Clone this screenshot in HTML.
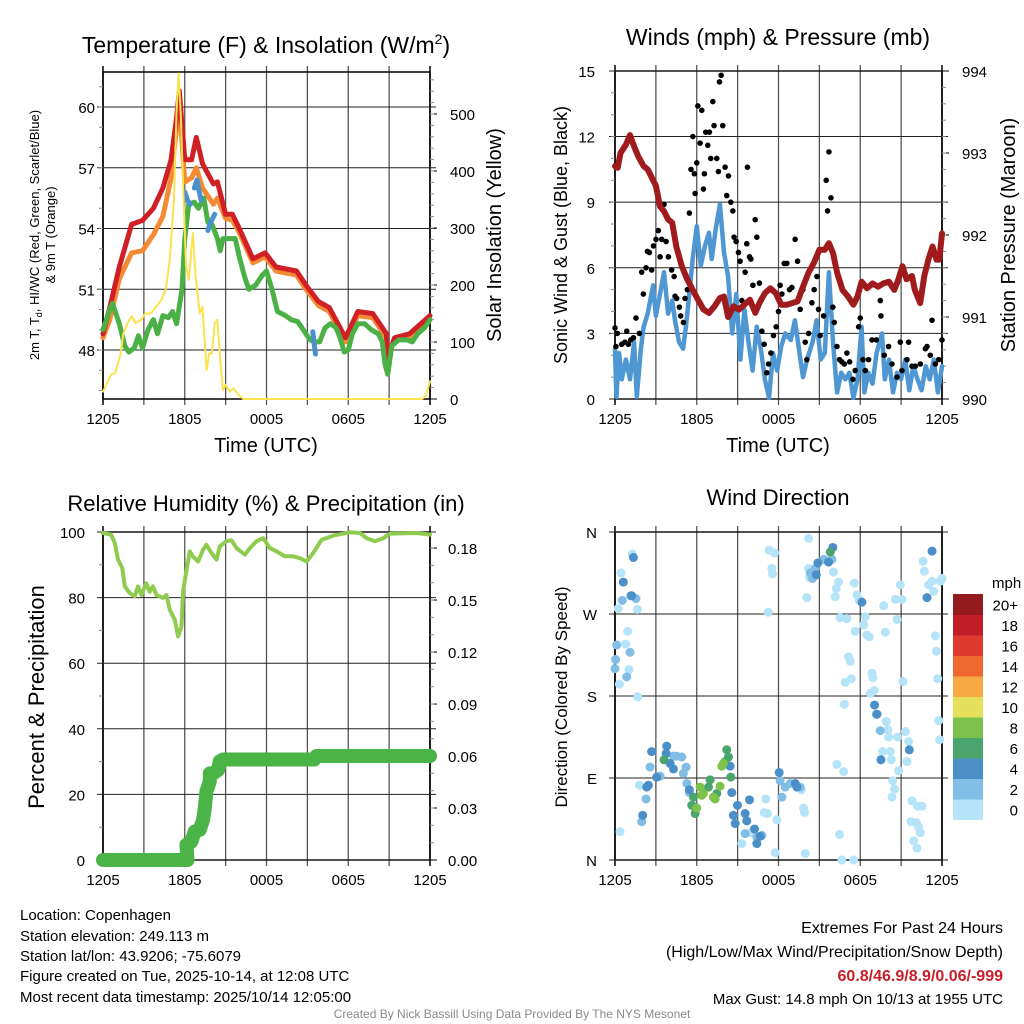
<!DOCTYPE html>
<html><head><meta charset="utf-8"><style>
html,body{margin:0;padding:0;background:#fff;}
svg{display:block;font-family:"Liberation Sans",Arial,sans-serif;}
</style></head><body>
<svg id="chart" width="1024" height="1024" viewBox="0 0 1024 1024" xmlns="http://www.w3.org/2000/svg">
<rect width="1024" height="1024" fill="#fff"/>
<g id="g1"></g>
<g id="g2"></g>
<g id="g3"></g>
<g id="g4"></g>
<g id="gtext">
<text x="20" y="920" font-size="15">Location: Copenhagen</text>
<text x="20" y="941" font-size="15">Station elevation: 249.113 m</text>
<text x="20" y="961" font-size="15">Station lat/lon: 43.9206; -75.6079</text>
<text x="20" y="981" font-size="15">Figure created on Tue, 2025-10-14, at 12:08 UTC</text>
<text x="20" y="1002" font-size="15">Most recent data timestamp: 2025/10/14 12:05:00</text>
<text x="1003" y="933" font-size="16" text-anchor="end">Extremes For Past 24 Hours</text>
<text x="1003" y="957" font-size="16" text-anchor="end">(High/Low/Max Wind/Precipitation/Snow Depth)</text>
<text x="1003" y="981" font-size="16" font-weight="bold" fill="#c8202a" text-anchor="end">60.8/46.9/8.9/0.06/-999</text>
<text x="1003" y="1004" font-size="15" text-anchor="end">Max Gust: 14.8 mph On 10/13 at 1955 UTC</text>
<text x="512" y="1018" font-size="12" fill="#8a8a8a" text-anchor="middle">Created By Nick Bassill Using Data Provided By The NYS Mesonet</text>
</g>
</svg>
<script>
// ---------- data ----------
const xTickLabels = ["1205","1805","0005","0605","1205"];
const tempTickLabels = [60,57,54,51,48];
const insolTickLabels = [0,100,200,300,400,500];
const redT = [0,48.8,0.5,50.1,1.2,52.1,2.1,54.2,2.9,54.4,3.7,55.0,4.4,56.0,5.0,57.4,5.4,59.5,5.6,60.8,6.0,57.4,6.5,57.4,6.85,58.5,7.3,57.2,8.1,56.2,8.4,56.3,9.0,54.7,9.5,54.7,10.0,54.0,11.0,52.5,11.9,52.8,12.7,52.1,14.2,51.9,14.9,51.2,15.8,50.4,16.6,50.1,17.8,48.6,18.7,49.9,19.8,49.8,20.8,48.8,20.9,47.6,21.4,48.6,22.5,48.8,24,49.7];
const orangeT = [0,48.6,0.5,49.5,1.2,51.5,2.1,52.8,2.9,52.9,3.7,53.7,4.4,54.6,5.0,56.5,5.4,59.0,5.6,60.2,6.0,56.3,6.5,56.5,6.85,57.0,7.3,56.0,8.1,55.2,8.4,55.5,9.0,54.5,9.5,54.4,10.0,53.8,11.0,52.3,11.9,52.6,12.7,51.9,14.2,51.7,14.9,51.0,15.8,50.2,16.6,49.9,17.8,48.4,18.7,49.7,19.8,49.6,20.8,48.6,20.9,47.8,21.4,48.5,22.5,48.6,24,49.5];
const greenTd = [0,49.0,0.5,50.0,0.7,50.3,1.2,49.3,1.6,48.2,1.9,47.9,2.3,48.1,2.6,48.7,2.9,48.1,3.3,49.0,3.7,49.5,4.0,48.8,4.4,49.7,4.8,49.6,5.1,49.9,5.4,49.3,5.8,51.0,6.0,53.5,6.3,55.2,6.7,55.3,7.0,55.0,7.4,55.5,7.7,54.3,8.0,54.2,8.4,53.5,8.6,52.9,8.8,53.5,9.3,53.5,9.7,53.5,10.0,52.6,10.4,51.6,10.7,51.0,11.2,51.2,11.7,51.7,12.0,51.9,12.4,51.0,12.8,49.9,13.4,49.7,13.8,49.5,14.3,49.4,14.8,48.9,15.2,48.5,15.5,48.4,15.9,48.4,16.3,49.1,16.7,49.3,17.1,49.1,17.4,48.6,17.7,47.9,18.0,48.0,18.3,48.8,18.7,49.3,19.2,49.3,19.7,49.0,20.2,48.8,20.5,48.4,20.7,47.3,20.9,46.8,21.2,48.2,21.7,48.5,22.3,48.5,22.7,48.4,23.1,48.8,23.6,49.1,24,49.5];
const blueHI1 = [6.0,55.8,6.2,55.4,6.4,55.2];
const blueHI2 = [6.7,56.0,6.9,56.4,7.0,56.0,7.2,55.4];
const blueHI3 = [7.7,53.9,7.9,54.3,8.2,54.7];
const blueHI4 = [15.4,48.9,15.5,48.3,15.6,47.8];
const insol = [0,13,0.3,28,0.6,43,0.9,46,1.3,80,1.5,115,1.8,133,2.1,145,2.4,133,2.8,139,3.1,150,3.5,150,3.9,162,4.3,174,4.6,192,4.9,244,5.2,349,5.4,507,5.55,571,5.7,501,5.9,361,6.1,232,6.3,209,6.5,267,6.6,291,6.8,216,7.1,150,7.3,162,7.6,51,7.8,80,8.0,80,8.2,133,8.4,139,8.6,69,8.8,16,9.0,25,9.3,13,9.6,19,9.9,8,10.3,0,23.4,0,23.7,5,24,31];

const windTickLabels = [0,3,6,9,12,15];
const presTickLabels = [990,991,992,993,994];
const pressure = [0,992.84,0.2,992.82,0.4,993.0,0.8,993.1,1.1,993.22,1.4,993.08,1.7,992.96,2.1,992.84,2.4,992.8,2.7,992.7,3.0,992.6,3.3,992.35,3.6,992.29,3.9,992.19,4.2,992.15,4.5,991.86,4.9,991.62,5.3,991.46,5.7,991.33,6.1,991.21,6.5,991.09,6.9,991.05,7.3,991.13,7.7,991.23,8.0,991.25,8.3,991.0,8.7,991.13,9.1,991.09,9.5,991.15,9.9,991.21,10.3,991.05,10.6,991.17,11.0,991.29,11.4,991.35,11.8,991.29,12.2,991.15,12.6,991.15,13.0,991.17,13.4,991.19,13.8,991.37,14.2,991.54,14.6,991.66,15.0,991.82,15.4,991.82,15.7,991.9,16.0,991.78,16.3,991.54,16.7,991.33,17.1,991.25,17.5,991.15,17.8,991.25,18.1,991.43,18.5,991.35,18.9,991.41,19.3,991.37,19.7,991.41,20.1,991.43,20.5,991.33,20.8,991.46,21.1,991.62,21.4,991.46,21.8,991.5,22.0,991.33,22.4,991.17,22.7,991.5,23.0,991.7,23.3,991.86,23.6,991.7,23.8,991.7,24,992.02];
const windSpeed = [0,2.3,0.1,0.1,0.3,2.1,0.5,0.9,0.8,1.8,1.1,0.9,1.4,2.6,1.6,0.1,1.9,2.3,2.1,3.3,2.4,3.9,2.8,5.2,3.0,3.8,3.3,4.8,3.6,5.8,3.9,3.9,4.2,4.5,4.4,3.6,4.7,2.6,5.0,2.3,5.2,3.3,5.4,4.5,5.7,6.4,6.0,7.9,6.3,6.1,6.6,7.0,6.9,7.6,7.1,6.4,7.4,7.8,7.7,8.9,8.0,6.7,8.3,5.6,8.6,3.0,8.9,4.8,9.2,1.8,9.5,4.1,9.8,2.6,10.1,1.3,10.4,3.3,10.7,2.3,11.0,0.9,11.3,0.05,11.6,2.1,11.9,1.3,12.2,2.4,12.5,3.0,12.9,2.7,13.2,3.6,13.5,2.3,13.8,1.0,14.1,1.8,14.5,2.6,14.8,3.6,15.1,1.8,15.4,2.1,15.7,5.8,16.0,2.6,16.3,0.3,16.6,1.2,16.9,0.9,17.2,1.2,17.5,0.05,17.8,0.9,18.1,3.3,18.3,0.3,18.6,1.2,18.9,0.7,19.2,2.1,19.6,3.0,19.8,0.9,20.1,1.8,20.4,0.3,20.7,1.2,21.0,0.9,21.3,1.8,21.6,0.4,21.9,1.5,22.2,0.9,22.5,0.4,22.8,1.5,23.1,0.9,23.4,1.8,23.7,0.3,24,1.5];
const gustTimes = [0,0.07,0.17,0.49,0.73,0.86,0.98,1.15,1.35,1.54,1.79,1.96,2.08,2.28,2.38,2.52,2.69,2.82,3.01,3.18,3.31,3.43,3.60,3.75,3.92,4.16,4.34,4.41,4.53,4.73,4.82,5.02,5.14,5.31,5.46,5.58,5.71,5.83,5.88,6.00,6.08,6.25,6.37,6.49,6.56,6.66,6.81,6.93,7.03,7.18,7.27,7.47,7.59,7.67,7.79,7.91,8.08,8.20,8.33,8.50,8.65,8.74,8.89,9.06,9.18,9.31,9.55,9.67,9.72,9.87,9.97,10.12,10.29,10.41,10.60,10.78,10.95,11.14,11.27,11.44,11.63,11.83,12.00,12.12,12.25,12.42,12.61,12.81,12.98,13.22,13.40,13.59,13.79,13.96,14.08,14.21,14.45,14.62,14.82,14.94,15.06,15.31,15.50,15.60,15.70,15.85,15.99,16.09,16.29,16.48,16.65,16.83,17.02,17.22,17.46,17.63,17.88,18.00,18.20,18.37,18.61,18.86,19.18,19.47,19.52,19.76,20.08,20.33,20.70,20.94,21.06,21.43,21.55,21.80,22.04,22.41,22.78,22.90,23.14,23.27,23.51,23.76,24.0];
const gustValues = [3.25,2.4,3.0,2.5,2.6,3.1,2.5,2.7,2.8,3.7,3.0,5.8,4.8,6.0,6.75,6.7,5.9,7.0,7.3,7.7,6.5,7.3,8.9,7.2,6.5,5.9,5.6,4.7,4.6,4.2,3.8,3.5,4.6,5.0,8.5,10.5,12.0,10.3,9.4,10.8,13.4,11.7,13.2,9.6,10.3,12.2,11.6,12.2,11.0,13.6,12.5,11.0,10.4,14.5,14.8,12.5,10.6,9.3,10.2,9.0,8.6,7.4,7.2,6.7,6.3,4.5,5.8,7.1,10.6,6.5,6.4,5.2,8.2,7.4,5.3,3.1,2.5,1.2,1.6,2.1,2.9,3.3,4.0,5.2,4.8,6.2,6.2,5.0,5.1,7.3,6.3,4.1,5.0,2.6,1.8,3.0,4.4,5.0,5.6,4.1,2.9,3.8,10.0,8.6,11.3,9.2,4.2,3.5,2.4,1.8,1.7,1.6,2.1,1.7,0.9,1.3,3.3,3.7,1.8,1.3,1.8,2.7,2.7,4.5,3.8,2.0,2.4,1.6,1.0,2.6,1.3,1.8,2.6,1.5,1.5,1.6,2.3,2.4,2.0,3.6,1.6,1.8,2.7];

const rhTickLabels = [0,20,40,60,80,100];
const precipTickLabels = ["0.00","0.03","0.06","0.09","0.12","0.15","0.18"];
const rh = [0,99.7,0.6,99.2,0.86,96.7,1.1,91.6,1.42,89,1.6,83.4,1.96,81.4,2.33,80.4,2.57,83.4,2.82,80.8,3.18,84.4,3.43,81.8,3.67,83.4,3.92,80.8,4.41,79.9,4.65,80.8,4.9,76.3,5.27,73.2,5.51,68.2,5.76,71.2,5.88,82,6.12,88.2,6.37,94.1,6.61,92.5,6.98,91,7.35,94.6,7.59,96.1,7.96,93.6,8.33,91.6,8.57,95.6,9.06,97.2,9.43,97.5,9.8,95.1,10.41,93.1,10.78,95.1,11.27,97.2,11.76,98.1,12.25,95.1,12.74,94.1,13.35,92.6,13.96,92.6,14.45,92.0,14.94,91,15.43,93.6,16.04,97.6,16.9,98.9,18.12,99.9,18.86,99.7,19.35,98.1,19.96,97.2,20.57,98.1,21.06,99.5,23.02,99.7,24,99.2];
const precip = [0,0,6.2,0,6.12,0.0087,6.49,0.0106,6.73,0.0164,7.1,0.0174,7.35,0.023,7.47,0.03,7.59,0.0396,7.84,0.0453,7.84,0.05,8.08,0.05,8.45,0.052,8.57,0.057,8.82,0.058,15.5,0.058,15.67,0.06,24,0.06];

const dirTickLabels = ["N","E","S","W","N"];
const dirTimes = [1.27,0.44,0.24,0.93,0.78,1.03,0.32,1.67,1.64,0.37,1.79,11.32,11.71,11.51,11.56,11.24,14.21,14.08,14.21,14.28,16.04,16.41,16.24,16.16,17.56,17.76,17.93,16.53,17.02,17.63,18.37,18.25,18.49,18.66,17.14,17.27,16.9,17.34,16.83,18.86,18.93,18.74,19.03,19.72,19.84,20.57,20.70,20.94,21.06,22.61,22.70,23.02,23.27,24.0,23.88,23.39,23.51,23.59,23.68,23.76,23.83,21.14,19.91,20.03,20.08,19.64,20.21,20.28,20.74,21.31,21.55,21.43,20.82,20.38,20.52,20.33,21.8,22.21,22.53,21.72,22.12,22.29,22.41,21.92,22.16,16.29,16.78,16.48,16.65,17.51,13.96,11.76,11.88,10.95,11.19,11.07,13.84,13.91,13.67,9.31,9.97,
0,0.05,0.12,1.10,0.86,0.54,1.15,1.54,1.96,2.28,2.57,3.31,4.29,4.53,4.9,5.22,5.02,5.27,5.46,9.55,10.41,10.78,12.12,12.49,12.86,13.59,12.25,14.7,15.31,15.92,14.33,14.5,19.47,19.18,
1.35,0.61,1.22,2.33,2.45,2.03,2.69,3.06,3.8,3.75,4.04,4.29,5.46,5.88,8.45,8.57,8.99,8.69,8.82,9.55,9.67,9.87,10.41,10.65,12.05,13.23,13.35,14.77,14.89,15.67,15.99,19.23,19.05,19.52,21.6,22.9,23.27,18.12,10.24,
3.6,8.2,8.33,8.08,8.5,6.98,6.86,5.63,5.76,5.88,15.8,7.47,
6.25,6.49,6.37,6.0,7.71,7.84,7.96,7.22,7.35];
const dirDegrees = [336,315,276,251,237,209,193,179,275,31,82,340,337,320,314,272,353,288,320,310,316,305,298,289,304,291,285,266,265,251,267,258,247,245,223,218,195,199,171,205,200,183,186,279,250,286,264,302,286,328,317,302,306,309,306,295,246,229,199,153,132,196,152,143,135,119,119,110,135,141,130,108,98,87,78,69,65,59,59,42,41,36,30,21,13,105,97,28,0,0,7,8,44,52,51,67,57,52,77,18,30,
210,220,236,228,201,285,290,287,42,67,102,92,114,114,113,102,95,84,74,29,25,27,87,80,84,80,69,320,330,330,315,309,142,160,
332,305,290,80,82,49,119,91,125,117,106,100,77,58,103,74,60,49,40,51,43,66,18,26,96,84,80,313,326,327,343,160,170,110,121,288,339,283,34,
110,121,113,108,91,88,80,60,69,51,338,73,
80,73,71,57,81,103,106,69,67];
const dirSpeeds = [].concat(Array(101).fill(1),Array(34).fill(3),Array(39).fill(5),Array(12).fill(7),Array(9).fill(9));
const legendLabels = ["0","2","4","6","8","10","12","14","16","18","20+"];
const legendColors = ["#b5e3f8","#82bde5","#4a8fc8","#49a56c","#7dc24a","#e6df5c","#f5a945","#ef6730","#df3a2f","#c01f2a","#931a1d"];

// ---------- helpers ----------
const NS="http://www.w3.org/2000/svg";
function mk(parent,tag,attrs){const e=document.createElementNS(NS,tag);for(const k in attrs)e.setAttribute(k,attrs[k]);parent.appendChild(e);return e;}
function txt(parent,x,y,s,size,anchor,extra){const e=mk(parent,"text",Object.assign({x:x,y:y,"font-size":size,"text-anchor":anchor||"start"},extra||{}));e.textContent=s;return e;}
const X0=103,X1=430,X2=615,X3=942;
function xs(left){return h=>left+h*(327/24);}
function pathFrom(arr,fx,fy){let d="";for(let i=0;i<arr.length;i+=2){d+=(i?"L":"M")+fx(arr[i]).toFixed(1)+","+fy(arr[i+1]).toFixed(1);}return d;}

function frame(g,x0,y0,x1,y1){
  const fx=xs(x0);
  for(let h=3;h<24;h+=3){const l=mk(g,"line",{x1:fx(h),x2:fx(h),y1:y0-6,y2:y1+6,stroke:"#555","stroke-width":1.3});
    
    }
  const r=mk(g,"rect",{x:x0,y:y0,width:x1-x0,height:y1-y0,fill:"none",stroke:"#000","stroke-width":1.5});
  
  
  [0,24].forEach(h=>mk(g,"line",{x1:fx(h),x2:fx(h),y1:y0-6,y2:y1+6,stroke:"#000","stroke-width":1.5}));
}
function hgrid(g,x0,x1,y){const l=mk(g,"line",{x1:x0-6,x2:x1+6,y1:y,y2:y,stroke:"#222","stroke-width":1});
  
  }
function minor(g,x,y,dir){mk(g,"line",{x1:x,x2:x+dir*4,y1:y,y2:y,stroke:"#888","stroke-width":1});}
function xlabels(g,x0,y){const fx=xs(x0);xTickLabels.forEach((s,i)=>{const t=txt(g,fx(i*6),y,s,15,"middle");
  
  });}
function polyline(g,arr,fx,fy,color,w,name){const p=mk(g,"path",{d:pathFrom(arr,fx,fy),fill:"none",stroke:color,"stroke-width":w,"stroke-linejoin":"round","stroke-linecap":"round"});
  
  return p;}

// ---------- panel 1 ----------
(function(){
  const g=document.getElementById("g1");const fx=xs(X0);
  const fyT=v=>350-(v-48)*20.25, fyI=v=>399-v*0.57;
  frame(g,X0,72,X1,399);
  tempTickLabels.forEach(v=>{hgrid(g,X0,X1,fyT(v));const t=txt(g,95,fyT(v)+6,String(v),15,"end");
    
    });
  for(let v=46;v<=61;v++){minor(g,X0,fyT(v),-1);}
  insolTickLabels.forEach(v=>{mk(g,"line",{x1:X1,x2:X1+7,y1:fyI(v),y2:fyI(v),stroke:"#000"});const t=txt(g,450,fyI(v)+6,String(v),15,"start");
    
    });
  for(let v=20;v<=560;v+=20){minor(g,X1,fyI(v),1);}
  polyline(g,orangeT,fx,fyT,"#f58a35",5,"orange-9m-temp-line");
  polyline(g,redT,fx,fyT,"#d11f26",5,"red-2m-temp-line");
  polyline(g,greenTd,fx,fyT,"#4bb146",5,"green-dewpoint-line");
  [blueHI1,blueHI2,blueHI3,blueHI4].forEach(a=>polyline(g,a,fx,fyT,"#4a90cc",5,"blue-windchill-segment"));
  polyline(g,insol,fx,fyI,"#fbe24f",2,"yellow-insolation-line");
  xlabels(g,X0,424);
  txt(g,266,452,"Time (UTC)",20,"middle",{});
  const t=mk(g,"text",{x:266,y:53,"font-size":23,"text-anchor":"middle",});
  t.innerHTML='Temperature (F) &amp; Insolation (W/m<tspan dy="-9" font-size="14">2</tspan><tspan dy="9">)</tspan>';
  const yl=mk(g,"text",{transform:"translate(39,235) rotate(-90)","font-size":13,"text-anchor":"middle",});
  yl.innerHTML='2m T, T<tspan dy="3" font-size="9">d</tspan><tspan dy="-3">, HI/WC (Red, Green, Scarlet/Blue)</tspan>';
  txt(g,0,0,"& 9m T (Orange)",13,"middle",{transform:"translate(55,235) rotate(-90)",});
  txt(g,0,0,"Solar Insolation (Yellow)",20,"middle",{transform:"translate(501,235) rotate(-90)",});
})();

// ---------- panel 2 ----------
(function(){
  const g=document.getElementById("g2");const fx=xs(X2);
  const fyW=v=>399-v*21.87, fyP=v=>399-(v-990)*82;
  frame(g,X2,71,X3,399);
  windTickLabels.forEach(v=>{hgrid(g,X2,X3,fyW(v));const t=txt(g,595,fyW(v)+6,String(v),15,"end");
    
    });
  for(let v=1;v<15;v++){minor(g,X2,fyW(v),-1);}
  presTickLabels.forEach(v=>{mk(g,"line",{x1:X3,x2:X3+7,y1:fyP(v),y2:fyP(v),stroke:"#000"});const t=txt(g,962,fyP(v)+6,String(v),15,"start");
    
    });
  for(let v=990.2;v<994;v+=0.2){minor(g,X3,fyP(v),1);}
  polyline(g,windSpeed,fx,fyW,"#4f97d2",4.5,"sonic-wind-line");
  gustTimes.forEach((h,i)=>{const c=mk(g,"circle",{cx:fx(h),cy:fyW(gustValues[i]),r:2.8,fill:"#000"});
    
    });
  polyline(g,pressure,fx,fyP,"#a01b1d",6,"station-pressure-line");
  xlabels(g,X2,424);
  txt(g,778,452,"Time (UTC)",20,"middle",{});
  txt(g,778,45,"Winds (mph) & Pressure (mb)",23,"middle",{});
  txt(g,0,0,"Sonic Wind & Gust (Blue, Black)",18,"middle",{transform:"translate(567,235) rotate(-90)",});
  txt(g,0,0,"Station Pressure (Maroon)",20,"middle",{transform:"translate(1015,235) rotate(-90)",});
})();

// ---------- panel 3 ----------
(function(){
  const g=document.getElementById("g3");const fx=xs(X0);
  const fyR=v=>860-v*3.28, fyPr=v=>860-v*1733;
  frame(g,X0,532,X1,860);
  rhTickLabels.forEach(v=>{hgrid(g,X0,X1,fyR(v));const t=txt(g,85,fyR(v)+6,String(v),15,"end");
    
    });
  for(let v=10;v<100;v+=20){minor(g,X0,fyR(v),-1);}
  precipTickLabels.forEach(s=>{const v=parseFloat(s);mk(g,"line",{x1:X1,x2:X1+7,y1:fyPr(v),y2:fyPr(v),stroke:"#000"});const t=txt(g,448,fyPr(v)+6,s,15,"start");
    
    });
  for(let v=0.01;v<0.187;v+=0.01){minor(g,X1,fyPr(v),1);}
  polyline(g,precip,fx,fyPr,"#4bb446",14,"precipitation-line");
  polyline(g,rh,fx,fyR,"#8ecb4f",4,"relative-humidity-line");
  xlabels(g,X0,885);
  txt(g,266,511,"Relative Humidity (%) & Precipitation (in)",22,"middle",{});
  txt(g,0,0,"Percent & Precipitation",22,"middle",{transform:"translate(44,697) rotate(-90)",});
})();

// ---------- panel 4 ----------
(function(){
  const g=document.getElementById("g4");const fx=xs(X2);
  const fyD=v=>860-v*(328/360);
  frame(g,X2,532,X3,860);
  dirTickLabels.forEach((s,i)=>{const y=fyD(i*90);hgrid(g,X2,X3,y);const t=txt(g,597,y+6,s,15,"end");
    
    });
  function colorFor(s){const k=Math.min(10,Math.floor(s/2));return legendColors[k];}
  dirTimes.forEach((h,i)=>{const c=mk(g,"circle",{cx:fx(h),cy:fyD(dirDegrees[i]),r:4.5,fill:colorFor(dirSpeeds[i])});
    
    });
  xlabels(g,X2,885);
  txt(g,778,505,"Wind Direction",22,"middle",{});
  txt(g,0,0,"Direction (Colored By Speed)",17,"middle",{transform:"translate(567,697) rotate(-90)",});
  txt(g,992,588,"mph",15,"start",{});
  const top=594,hh=20.5;
  legendLabels.forEach((s,i)=>{const y=top+(10-i)*hh;const r=mk(g,"rect",{x:953,y:y,width:30,height:hh+0.5,fill:legendColors[i]});
    
    
    const t=txt(g,1018,y+hh/2+6,s,15,"end");
    
    });
})();
</script>
</body></html>
